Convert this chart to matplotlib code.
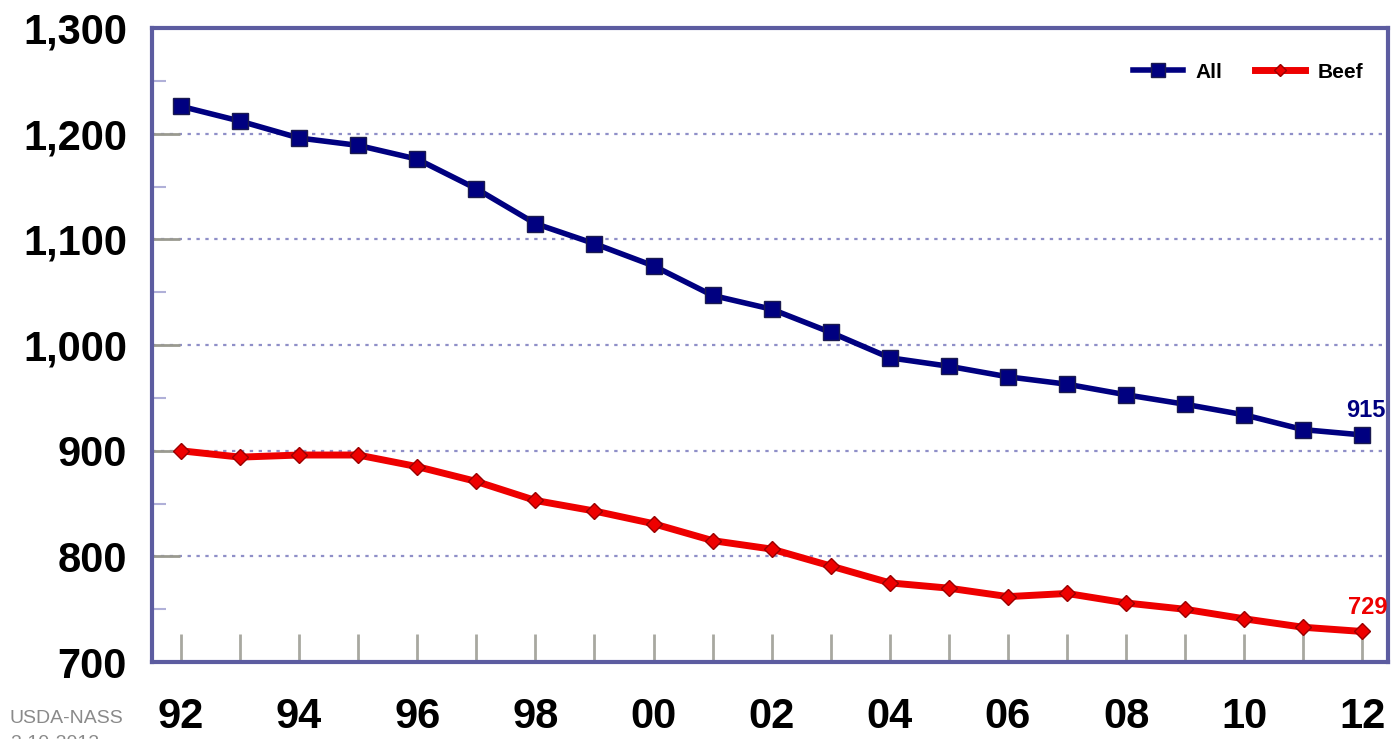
import matplotlib
matplotlib.use("Agg")
import matplotlib.pyplot as plt
from matplotlib.ticker import MultipleLocator, FixedLocator

years = ["92", "93", "94", "95", "96", "97", "98", "99", "00", "01", "02",
         "03", "04", "05", "06", "07", "08", "09", "10", "11", "12"]
all_cattle = [1226, 1212, 1196, 1189, 1176, 1148, 1115, 1096, 1075, 1047, 1034,
              1012, 988, 980, 970, 963, 953, 944, 934, 920, 915]
beef = [900, 894, 896, 896, 885, 871, 853, 843, 831, 815, 807,
        791, 775, 770, 762, 765, 756, 750, 741, 733, 729]
yticks = [700, 800, 900, 1000, 1100, 1200, 1300]

plt.rcParams['font.family'] = ['Liberation Sans', 'DejaVu Sans']

fig = plt.figure(figsize=(13.94, 7.39), dpi=100)
ax = fig.add_axes([0.109, 0.104, 0.887, 0.858])

x = list(range(len(years)))
navy = "#000080"
red = "#ee0000"

# dotted grid at the inner majors
for v in yticks[1:-1]:
    ax.axhline(v, color="#8f8fc8", linestyle=(0, (1.5, 2.5)), linewidth=1.6, zorder=1)

ax.plot(x, all_cattle, color=navy, linewidth=4, marker="s", markersize=12,
        markerfacecolor=navy, markeredgecolor="#1a1a50", label="All", zorder=3)
ax.plot(x, beef, color=red, linewidth=5, marker="D", markersize=8,
        markerfacecolor=red, markeredgecolor="#990000", markeredgewidth=1, label="Beef", zorder=3)

ax.text(x[-1] + 0.39, all_cattle[-1] + 12, "915", color=navy, fontsize=17,
        fontweight="bold", ha="right", va="bottom")
ax.text(x[-1] + 0.43, beef[-1] + 12, "729", color=red, fontsize=17,
        fontweight="bold", ha="right", va="bottom")

ax.set_xlim(-0.49, 20.44)
ax.set_ylim(700, 1300)

ax.yaxis.set_major_locator(FixedLocator(yticks))
ax.set_yticklabels([f"{v:,}" for v in yticks], fontsize=30, fontweight="bold")
ax.yaxis.set_minor_locator(MultipleLocator(50))
ax.tick_params(axis="y", which="major", direction="in", length=20, width=2,
               color="#9a9a90", pad=18)
ax.tick_params(axis="y", which="minor", direction="in", length=10, width=1.5,
               color="#b0b0d8")

ax.set_xticks(x)
ax.set_xticklabels([y if i % 2 == 0 else "" for i, y in enumerate(years)],
                   fontsize=30, fontweight="bold")
ax.tick_params(axis="x", direction="in", length=20, width=2, color="#a8a8a0", pad=25)

for s in ax.spines.values():
    s.set_color("#5c5ca0")
    s.set_linewidth(3)

leg = ax.legend(loc="upper right", ncol=2, frameon=False,
                prop={"weight": "bold", "size": 15}, handlelength=2.4,
                columnspacing=1.6, handletextpad=0.6,
                bbox_to_anchor=(0.995, 0.975), markerscale=0.8)

fig.text(0.007, 0.022, "USDA-NASS", color="#8a8a8a", fontsize=14)
fig.text(0.007, -0.012, "3-10-2012", color="#8a8a8a", fontsize=14)

fig.savefig("out.png", dpi=100)
